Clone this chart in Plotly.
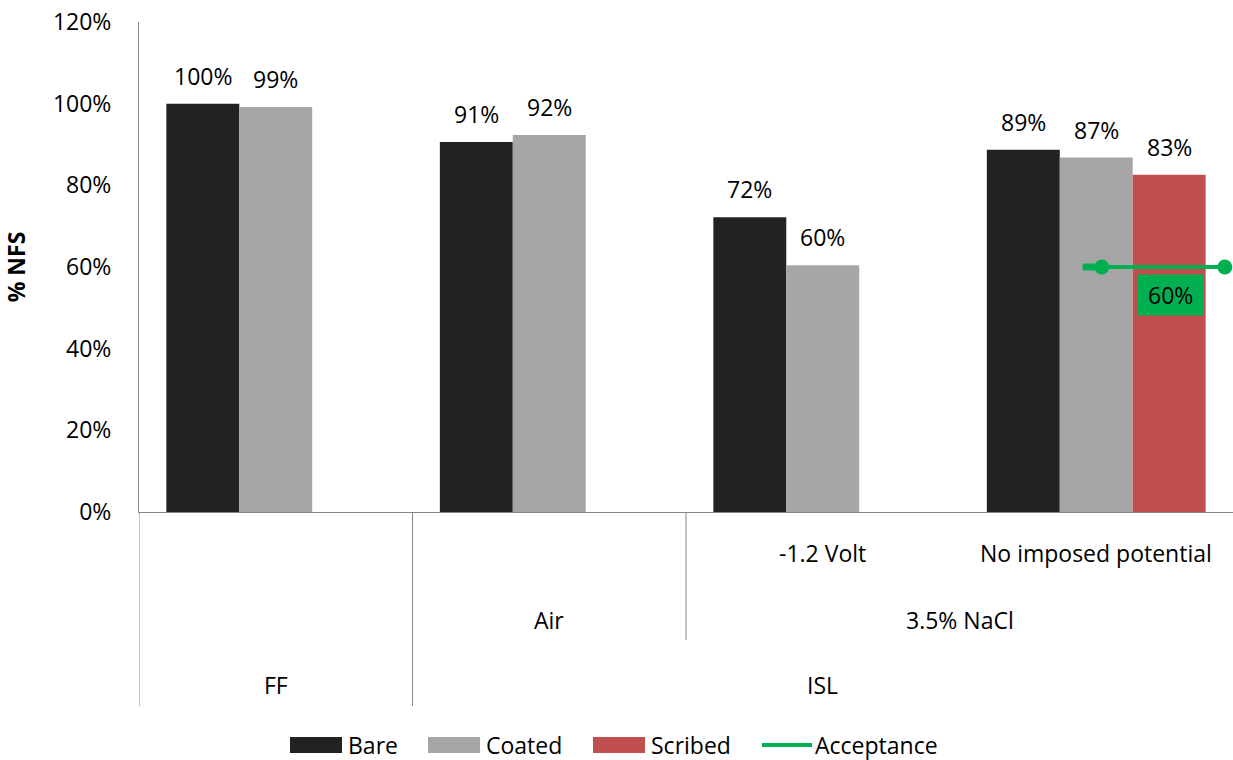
import plotly.graph_objects as go

# Category hierarchy (innermost -> outermost) and series values
categories = ["FF", "Air", "-1.2 Volt", "No imposed potential"]
level_inner = ["", "", "-1.2 Volt", "No imposed potential"]
level_mid = ["", "Air", "3.5% NaCl", "3.5% NaCl"]
level_outer = ["FF", "ISL", "ISL", "ISL"]

bare = [1.00, 0.906, 0.722, 0.887]
coated = [0.992, 0.923, 0.604, 0.868]
scribed = [None, None, None, 0.826]

acceptance = [0.60, 0.60]
acceptance_x = [3.02, 3.47]

W, H = 1233, 760
ML, MR, MT, MB = 139, 0, 22, 248
PW, PH = W - ML - MR, H - MT - MB
FONT = "Open Sans"
FS = 23
BARGAP = 0.2

def px_x(px):
    return (px - ML) / PW

def px_y(py):
    return (H - MB - py) / PH

series = [
    ("Bare", bare, "#222222"),
    ("Coated", coated, "#A6A6A6"),
    ("Scribed", scribed, "#C0504D"),
]

fig = go.Figure()
for name, vals, color in series:
    fig.add_bar(x=categories, y=vals, name=name, marker_color=color,
                marker_line_width=0, showlegend=False)

fig.add_scatter(x=acceptance_x, y=acceptance, xaxis="x2", name="Acceptance",
                mode="lines+markers", line=dict(color="#00B050", width=4),
                marker=dict(color="#00B050", size=15), showlegend=False,
                cliponaxis=False)

annotations = []
shapes = []

# value labels above each bar
group_px = PW / len(categories)
bar_px = group_px * (1 - BARGAP) / len(series)
for i, (name, vals, color) in enumerate(series):
    off = (i - (len(series) - 1) / 2) * bar_px
    for j, v in enumerate(vals):
        if v is None:
            continue
        annotations.append(dict(x=j, y=v, xref="x2", yref="y", text=f"{v:.0%}",
                                showarrow=False, xshift=off, yshift=28,
                                yanchor="middle",
                                font=dict(family=FONT, size=FS, color="#000")))

# acceptance value label
annotations.append(dict(x=3.27, y=acceptance[-1], xref="x2", yref="y",
                        text=f"&nbsp;{acceptance[-1]:.0%}&nbsp;", showarrow=False,
                        yshift=-28, yanchor="middle",
                        bgcolor="#00B050", borderpad=4,
                        font=dict(family=FONT, size=FS, color="#000")))
# short thick lead-in of the acceptance line
shapes.append(dict(type="line", xref="x2", yref="y", x0=2.95, x1=acceptance_x[0],
                   y0=acceptance[0], y1=acceptance[0],
                   line=dict(color="#00B050", width=7)))

# multi-level category axis
row_centers = [553, 620, 685]
row_bottoms = [590, 640, 706]
levels = [level_inner, level_mid, level_outer]
for r, labels in enumerate(levels):
    start = 0
    for j in range(1, len(labels) + 1):
        if j == len(labels) or labels[j] != labels[start]:
            if labels[start]:
                annotations.append(dict(x=(start + j - 1) / 2, y=px_y(row_centers[r]),
                                        xref="x2", yref="paper", text=labels[start],
                                        showarrow=False, yanchor="middle",
                                        font=dict(family=FONT, size=FS, color="#000")))
            start = j

for j in range(1, len(categories)):
    depth = -1
    for r in range(1, len(levels)):
        if levels[r][j] != levels[r][j - 1]:
            depth = r
    if depth >= 0:
        shapes.append(dict(type="line", xref="x2", yref="paper", x0=j - 0.5, x1=j - 0.5,
                           y0=0, y1=px_y(row_bottoms[depth]),
                           line=dict(color="#868686", width=1)))
shapes.append(dict(type="line", xref="x2", yref="paper", x0=-0.5, x1=-0.5,
                   y0=0, y1=px_y(row_bottoms[-1]), line=dict(color="#868686", width=1)))

# legend
legend_y = 745
legend_items = [("Bare", "#222222", 290, "bar"),
                ("Coated", "#A6A6A6", 428, "bar"),
                ("Scribed", "#C0504D", 593, "bar"),
                ("Acceptance", "#00B050", 760, "line")]
for name, color, x0, kind in legend_items:
    if kind == "bar":
        shapes.append(dict(type="rect", xref="paper", yref="paper",
                           x0=px_x(x0), x1=px_x(x0 + 52),
                           y0=px_y(legend_y + 8), y1=px_y(legend_y - 8),
                           fillcolor=color, line=dict(width=0)))
        tx = x0 + 56
    else:
        shapes.append(dict(type="line", xref="paper", yref="paper",
                           x0=px_x(x0 + 2), x1=px_x(x0 + 52),
                           y0=px_y(legend_y), y1=px_y(legend_y),
                           line=dict(color=color, width=4)))
        tx = x0 + 53
    annotations.append(dict(x=px_x(tx), y=px_y(legend_y), xref="paper", yref="paper",
                            text=name, showarrow=False, xanchor="left", yanchor="middle",
                            font=dict(family=FONT, size=FS, color="#000")))

fig.update_layout(
    width=W, height=H,
    margin=dict(l=ML, r=MR, t=MT, b=MB),
    paper_bgcolor="white", plot_bgcolor="white",
    barmode="group", bargap=BARGAP, bargroupgap=0,
    font=dict(family=FONT, size=FS, color="#000"),
    xaxis=dict(type="category", range=[-0.5, 3.5], showticklabels=False,
               showline=True, linecolor="#868686", linewidth=1, ticks="",
               showgrid=False, zeroline=False, fixedrange=True),
    xaxis2=dict(type="linear", overlaying="x", range=[-0.5, 3.5], visible=False),
    yaxis=dict(range=[0, 1.2], dtick=0.2, tickformat=".0%", showline=True,
               linecolor="#868686", linewidth=1, ticks="", showgrid=False,
               zeroline=False, ticklabelstandoff=22,
               tickfont=dict(family=FONT, size=FS, color="#000"),
               title=dict(text="<b>% NFS</b>", standoff=24,
                          font=dict(family=FONT, size=FS, color="#000"))),
    annotations=annotations,
    shapes=shapes,
)

fig.write_html("out.html")
